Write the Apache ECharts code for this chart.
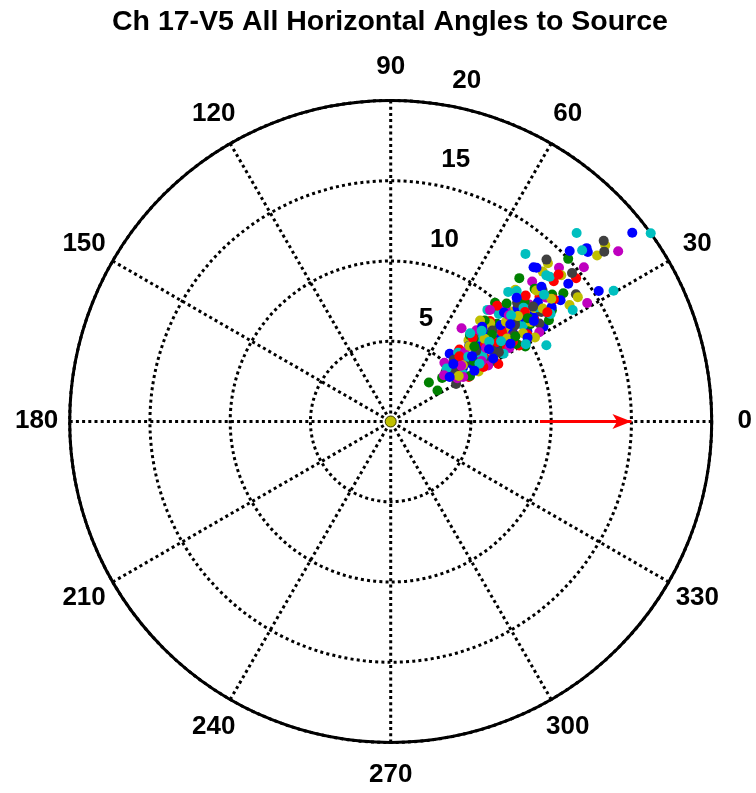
<!DOCTYPE html>
<html>
<head>
<meta charset="utf-8">
<script src="https://cdn.jsdelivr.net/npm/echarts@6/dist/echarts.min.js"></script>
<style>html,body{margin:0;padding:0;background:#fff;}#chart{width:756px;height:793px;}</style>
</head>
<body>
<div id="chart"></div>
<script>
// ---------- data ----------
const titleText = 'Ch 17-V5 All Horizontal Angles to Source';
const angleTicks = [0, 30, 60, 90, 120, 150, 180, 210, 240, 270, 300, 330];
const angleTickLabels = ['0', '30', '60', '90', '120', '150', '180', '210', '240', '270', '300', '330'];
const radiusTicks = [5, 10, 15, 20];
const radiusTickLabels = ['5', '10', '15', '20'];
const radiusLabelAngle = 82;
const radiusMax = 20;
const arrowStart = 9.3;
const arrowEnd = 15;
const arrowAngle = 0;
const sourcePoint = [[0, 0]];

// [radius, angle(deg)]
const bluePts = [[19.1,38.0],[15.4,43.6],[16.3,41.5],[16.2,40.7],[13.1,47.2],[13.2,46.5],[15.3,32.1],[14.0,37.8],[13.0,35.5],
  [5.6,49.0],[5.6,36.5],[6.2,34.9],[11.2,31.8],[10.2,33.4],[10.6,41.8],[11.2,36.9],[8.0,43.1],
  [7.2,40.5],[8.6,37.2],[9.4,35.8],[6.8,44.0],[10.5,38.5],[7.9,34.2],[9.1,41.2],[11.8,39.0],[5.0,40.2],
  [8.2,46.0],[12.3,35.4],[10.0,31.5],[6.5,38.8],[9.8,43.9],[7.5,31.6],[11.0,44.5],[4.6,37.0],[8.9,33.0],[12.6,41.8],
  [5.3,42.6],[6.1,31.2],[9.6,39.1],[10.9,35.1],[7.6,36.3]];
const cyanPts = [[20.0,35.9],[16.5,45.4],[13.4,51.2],[16.0,41.8],[13.4,42.3],[16.1,30.4],[13.3,31.5],[10.8,26.1],
  [9.2,49.1],[11.45,43.1],[9.1,37.7],[9.0,32.9],[8.4,41.7],[13.3,43.2],[10.9,47.8],[6.9,37.0],
  [7.6,42.2],[8.8,39.4],[10.2,36.1],[6.0,45.5],[9.5,44.8],[11.6,37.9],[5.4,33.0],[7.0,35.2],[8.2,31.0],
  [10.9,40.6],[6.3,39.9],[12.0,33.9],[9.7,29.8],[4.8,43.5],[11.3,46.0],[7.4,48.0],[8.5,36.0],
  [6.6,33.1],[8.0,44.9],[10.0,41.4],[12.4,39.6],[7.9,39.0]];
const greenPts = [[15.0,42.5],[12.0,48.1],[3.4,45.6],[3.5,33.6],[13.4,36.6],[4.2,40.3],[9.85,48.7],[12.2,42.7],
  [12.2,34.6],[9.6,29.1],[7.3,47.5],
  [6.0,41.5],[7.7,38.0],[9.0,42.6],[10.6,34.9],[8.1,35.0],[5.2,36.3],[11.2,41.8],[6.9,32.8],[9.9,38.7],
  [7.3,44.9],[12.8,38.2],[8.6,47.1],[5.7,29.8],[10.3,45.5],[11.7,32.6],[4.5,39.0],[9.2,31.7],
  [6.4,36.0],[8.3,40.6],[10.7,37.0],[7.0,41.9],[9.4,34.3]];
const redPts = [[14.6,37.7],[13.4,40.7],[5.6,29.7],[5.58,41.0],[7.6,28.1],[13.9,41.2],
  [6.4,38.7],[7.8,42.5],[8.5,34.0],[9.6,37.6],[10.4,41.6],[7.1,33.5],[11.0,35.7],[8.8,45.3],[6.2,46.3],
  [9.3,30.6],[12.1,40.0],[10.1,32.6],[5.3,35.5],[7.6,39.3],[11.5,43.0],[8.9,38.8],[9.8,47.4],[12.7,36.8],[6.7,30.4],
  [5.9,43.5],[8.2,36.9],[10.8,39.2],[7.3,45.6],[9.1,33.2],[11.9,34.9]];
const magentaPts = [[17.7,36.8],[14.2,42.4],[15.4,38.6],[12.4,44.7],[14.3,31.1],[7.3,52.8],[4.96,47.6],
  [4.9,35.9],[4.95,33.0],[6.05,45.9],[7.4,41.2],
  [8.3,43.0],[9.5,39.5],[6.6,36.8],[10.6,37.2],[7.8,46.8],[11.3,40.2],[8.7,31.8],[5.8,40.7],[10.0,44.3],
  [9.0,35.6],[12.4,38.5],[7.0,29.9],[11.9,34.2],[6.3,43.0],[8.1,38.3],[10.8,31.0],[9.3,48.3],[5.3,31.5],
  [4.4,41.0],[6.8,33.6],[9.9,42.0],[7.5,37.6],[5.6,38.4]];
const yellowPts = [[17.3,39.4],[16.5,38.8],[13.9,45.2],[13.3,44.6],[14.0,40.6],[13.3,33.1],[14.0,33.6],
  [6.95,34.5],[7.0,46.2],[11.3,46.6],[6.3,29.6],
  [8.0,40.0],[9.2,37.0],[10.1,42.9],[7.3,37.9],[11.4,38.3],[8.7,44.6],[6.1,41.5],[9.9,33.7],[12.2,42.0],
  [7.6,32.2],[10.7,35.4],[5.7,38.0],[8.4,48.5],[11.8,36.6],[9.5,40.9],[6.8,43.8],[10.4,30.2],
  [5.1,33.8],[8.9,35.5],[10.3,39.6],[7.8,41.3],[12.6,37.4]];
const grayPts = [[17.4,40.3],[17.0,38.5],[14.0,46.1],[14.6,39.3],[14.0,34.5],[4.6,42.0],[4.7,29.9],
  [6.5,34.3],[7.4,41.0],[8.3,36.6],[9.1,39.9],[10.3,36.9],[7.9,44.2],[8.9,33.1],[10.8,43.2],[6.0,38.6],
  [11.6,36.0],[9.6,46.2],[12.5,40.8],[5.5,44.3],[7.2,30.8],[10.0,40.0],[8.5,41.8],[11.1,33.4],[9.4,35.0],
  [5.0,38.0],[6.9,39.5],[8.0,32.6],[9.8,37.8],[11.4,38.9],[7.7,35.4]];

const groups = [
  {name: 'b', color: '#0000FF', pts: bluePts},
  {name: 'g', color: '#008000', pts: greenPts},
  {name: 'r', color: '#FF0000', pts: redPts},
  {name: 'c', color: '#00BFBF', pts: cyanPts},
  {name: 'm', color: '#BF00BF', pts: magentaPts},
  {name: 'y', color: '#BFBF00', pts: yellowPts},
  {name: 'k', color: '#404040', pts: grayPts}
];

// interleave colours so that no single colour covers the others (plotting order only)
const mixed = [];
const maxLen = Math.max(...groups.map(g => g.pts.length));
for (let i = 0; i < maxLen; i++) {
  groups.forEach(g => {
    if (i < g.pts.length) mixed.push({value: g.pts[i], itemStyle: {color: g.color, opacity: 1}});
  });
}

// ---------- chart ----------
const FONT = '"Liberation Sans", Arial, sans-serif';
const CX = 390.7, CY = 421.5, R = 321;
const dotted = {color: '#000', width: 3, type: [3, 3.2]};

const chart = echarts.init(document.getElementById('chart'), null, {renderer: 'canvas'});

const labelStyle = {color: '#000', fontFamily: FONT, fontWeight: 'bold', fontSize: 26,
  textBorderWidth: 0, textShadowBlur: 0, opacity: 1};

const series = [];
series.push({
  type: 'scatter', coordinateSystem: 'polar', polarIndex: 0, name: 'angles',
  data: mixed, symbolSize: 10, z: 3, large: false, itemStyle: {opacity: 1}
});
// source point at origin
series.push({
  type: 'scatter', coordinateSystem: 'polar', polarIndex: 0, data: sourcePoint,
  symbolSize: 11, z: 4, itemStyle: {color: '#BFBF00', borderColor: '#3a3a00', borderWidth: 1, opacity: 1}
});
// arrow
series.push({
  type: 'line', coordinateSystem: 'polar', polarIndex: 0,
  data: [[arrowStart, arrowAngle], [arrowEnd, arrowAngle]],
  lineStyle: {color: '#FF0000', width: 3}, itemStyle: {color: '#FF0000'}, z: 5,
  showSymbol: true, showAllSymbol: true,
  symbol: (v, p) => p.dataIndex === 1 ? 'path://M0,0 L20,8 L0,16 L5,8 Z' : 'none',
  symbolSize: [19, 15], symbolOffset: [-9.5, 0]
});
// radial tick labels
series.push({
  type: 'scatter', coordinateSystem: 'polar', polarIndex: 0,
  data: radiusTicks.map((r, i) => ({value: [r, radiusLabelAngle], name: radiusTickLabels[i]})),
  symbolSize: 0, itemStyle: {color: '#000'}, z: 6, silent: true,
  label: Object.assign({show: true, position: 'inside', formatter: p => p.name, align: 'left',
    verticalAlign: 'middle', offset: [17, -23]}, labelStyle)
});
// angle tick labels (centered at 1.1 * outer radius)
series.push({
  type: 'scatter', coordinateSystem: 'polar', polarIndex: 1,
  data: angleTicks.map((a, i) => ({value: [1, a], name: angleTickLabels[i]})),
  symbolSize: 0, itemStyle: {color: '#000'}, z: 6, silent: true,
  label: Object.assign({show: true, position: 'inside', formatter: p => p.name, align: 'center',
    verticalAlign: 'middle', offset: [0, -1]}, labelStyle)
});

chart.setOption({
  animation: false,
  backgroundColor: '#fff',
  title: {
    text: titleText, left: 107, top: 3,
    textStyle: {fontFamily: FONT, fontWeight: 'bold', fontSize: 28.5, color: '#000'}
  },
  polar: [
    {center: [CX, CY], radius: R},
    {center: [CX, CY], radius: R * 1.103}
  ],
  angleAxis: [
    {polarIndex: 0, type: 'value', min: 0, max: 360, interval: 30, startAngle: 0, clockwise: false,
      axisLine: {show: true, lineStyle: {color: '#000', width: 3}},
      axisTick: {show: false}, axisLabel: {show: false},
      splitLine: {show: true, lineStyle: dotted}},
    {polarIndex: 1, type: 'value', min: 0, max: 360, interval: 30, startAngle: 0, clockwise: false, show: false}
  ],
  radiusAxis: [
    {polarIndex: 0, type: 'value', min: 0, max: radiusMax, interval: 5,
      axisLine: {show: false}, axisTick: {show: false}, axisLabel: {show: false},
      splitLine: {show: true, lineStyle: dotted}},
    {polarIndex: 1, type: 'value', min: 0, max: 1, show: false}
  ],
  series: series
});
</script>
</body>
</html>
